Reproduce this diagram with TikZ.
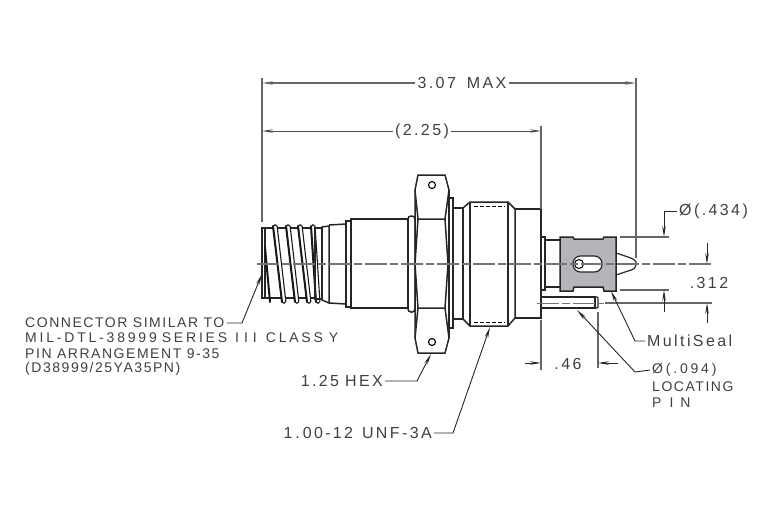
\documentclass[tikz,border=0pt]{standalone}
\usepackage{fontspec}
\setmainfont[LetterSpace=11]{Liberation Sans}
\newfontfamily\midfont[LetterSpace=20]{Liberation Sans}
\newfontfamily\widefont[LetterSpace=15]{Liberation Sans}
\usetikzlibrary{arrows.meta}
\definecolor{sealgray}{HTML}{B4B5B8}
\definecolor{dimgray}{HTML}{666666}
\tikzset{
  body/.style={line width=1.5pt, draw=black!85},
  thread/.style={line width=1.1pt, draw=black!90, fill=white, rounded corners=1.5pt},
  crest/.style={line width=2pt, draw=black!90, line cap=round},
  extline/.style={line width=1.2pt, draw=dimgray},
  dimline/.style={line width=1pt, draw=black!70, -{Stealth[length=11pt,width=3.5pt]}},
  leader/.style={line width=0.9pt, draw=black!85, -{Stealth[length=11pt,width=3.5pt]}},
  center/.style={line width=1.4pt, draw=black!55, dash pattern=on 22pt off 3pt on 8pt off 3pt},
  lab/.style={font=\fontsize{14}{14}\selectfont, text=black!75, inner sep=2pt},
  labmid/.style={lab, font=\fontsize{14}{14}\selectfont\midfont},
  labwide/.style={lab, font=\fontsize{16}{16}\selectfont\widefont},
}
\begin{document}
\begin{tikzpicture}[x=1pt,y=-1pt]
\useasboundingbox (0,0) rectangle (780,520);

% connector end with thread
\draw[body,line width=1.1pt] (265,228) rectangle (262,298);
\draw[body,line width=1.1pt] (265,228) -- (315,228) -- (315,298) -- (265,298);
\foreach \xa/\xb in {273/282,286/295,298/307,311/316} {
  \draw[thread] (\xa,225) -- (\xa+4,225) -- (\xb+4,303) -- (\xb,303) -- cycle;
  \draw[crest] (\xa,226) -- (\xb,302);
}
\draw[crest] (265,247) -- (270,302);
\draw[body,line width=1.1pt] (315,228) rectangle (322,299);
\draw[body] (322,227) -- (329,226) -- (329,303) -- (322,300) -- cycle;
\draw[body] (329,225) -- (346,224) -- (346,304) -- (329,303);
\draw[body,line width=2pt] (346,221) rectangle (351,307);
\draw[body] (351,219) rectangle (408,308);

% flange and hex nut
\draw[body,rounded corners=3pt] (408,216) -- (415,216) -- (415,312) -- (408,312) -- cycle;
\draw[body] (418,175) -- (445,175) -- (449,190) -- (449,338) -- (445,353) -- (418,353) -- (415,338) -- (415,190) -- cycle;
\draw[body] (415,190) -- (418,219) -- (445,219) -- (449,190);
\draw[body] (415,338) -- (418,308) -- (445,308) -- (449,338);
\draw[body] (418,219) -- (415,264) -- (418,308);
\draw[body] (445,219) -- (448,264) -- (445,308);
\draw[line width=1.1pt] (432,185) circle (3.5pt);
\draw[line width=1.1pt] (432,342) circle (3.5pt);
\draw[body] (449,198) rectangle (453,328);
\draw[body] (453,208) rectangle (463,319);

% threaded body
\draw[body] (463,208) -- (470,202) -- (508,202) -- (515,209) -- (515,318) -- (508,326) -- (470,326) -- (463,319);
\draw[body] (470,202) -- (470,326);
\draw[body] (508,202) -- (508,326);
\draw[body] (515,209) -- (541,209) -- (541,318) -- (515,318);
\draw[line width=0.8pt, dash pattern=on 4pt off 2pt] (474,206) -- (505,206);
\draw[line width=0.8pt, dash pattern=on 4pt off 2pt] (474,322) -- (505,322);

% back end
\draw[body] (541,237) rectangle (545,290);
\draw[body] (545,240) -- (560,240);
\draw[body] (545,287) -- (560,287);
\draw[body,fill=sealgray] (560,237) -- (573,237) -- (574,239) -- (603,239) -- (604,237) -- (616,237)
  -- (616,291) -- (604,291) -- (603,287) -- (574,287) -- (573,291) -- (560,291) -- cycle;
\draw[body,line width=1.2pt,fill=white,rounded corners=7.5pt] (573,256) rectangle (602,272);
\draw[line width=1pt,fill=white] (579,264) circle (4.5pt);
\draw[body,line width=1.2pt] (616,253) -- (628,257) .. controls (634,259) and (637,261) .. (636,264)
  .. controls (636,268) and (633,270) .. (628,271) -- (616,275);
\draw[body,line width=1.2pt] (541,297) -- (595,297) -- (595,308) -- (541,308);
\draw[body,line width=1.2pt,rounded corners=1pt] (595,297) -- (598,297) -- (598,308) -- (595,308);

% center lines
\draw[center] (257,264) -- (712,264);
\draw[center,line width=1pt] (537,303) -- (604,303);

% extension lines
\draw[extline] (262,78) -- (262,222);
\draw[extline] (636,78) -- (636,258);
\draw[extline] (541,126) -- (541,209);
\draw[extline] (541,320) -- (541,370);
\draw[extline] (598,312) -- (598,368);
\draw[extline] (620,237) -- (669,237);
\draw[extline] (620,290) -- (669,290);
\draw[extline] (605,303) -- (712,303);

% overall and body length
\node[labwide] (lenmax) at (462,83) {3.07\hspace{11pt}MAX};
\node[labwide] (lenbody) at (422,131) {(2.25)};
\coordinate (maxL) at (262,83);
\coordinate (maxR) at (636,83);
\coordinate (bodyL) at (262,131);
\coordinate (bodyR) at (541,131);
\draw[dimline,line width=1.3pt,draw=dimgray] (lenmax) -- (maxL);
\draw[dimline,line width=1.3pt,draw=dimgray] (lenmax) -- (maxR);
\draw[dimline] (lenbody) -- (bodyL);
\draw[dimline] (lenbody) -- (bodyR);

% right side dimensions
\node[labwide,anchor=west] (diaseal) at (677,211) {Ø(.434)};
\coordinate (diasealT) at (664,237);
\coordinate (diasealB) at (664,290);
\coordinate (diasealS) at (664,312);
\draw[leader] (diaseal.west) -| (diasealT);
\draw[leader] (diasealS) -- (diasealB);
\node[labwide] (pinoff) at (709,283) {.312};
\coordinate (offT) at (707,264);
\coordinate (offB) at (707,303);
\coordinate (offTS) at (707,243);
\coordinate (offBS) at (707,323);
\draw[leader] (offTS) -- (offT);
\draw[leader] (offBS) -- (offB);
\node[labwide] (pinlen) at (568,364) {.46};
\coordinate (pinlenL) at (541,363);
\coordinate (pinlenR) at (598,363);
\coordinate (pinlenLS) at (525,363);
\coordinate (pinlenRS) at (618,363);
\draw[leader] (pinlenLS) -- (pinlenL);
\draw[leader] (pinlenRS) -- (pinlenR);

% leaders
\node[labwide,anchor=west] (seal) at (645,341) {MultiSeal};
\coordinate (sealK) at (635,341);
\coordinate (sealT) at (611,291);
\draw[leader] (seal.west) -- (sealK) -- (sealT);
\node[labmid,anchor=west] (locpin) at (650,370) {Ø(.094)};
\coordinate (locpinK) at (635,372);
\coordinate (locpinT) at (577,310);
\draw[leader] (locpin.west) -- (locpinK) -- (locpinT);
\node[lab,anchor=west] (locpin2) at (650,387) {LOCATING};
\node[labmid,anchor=west] (locpin3) at (650,403) {P\hspace{8pt}I\hspace{7pt}N};
\node[labwide,anchor=east] (hex) at (385,381) {1.25\hspace{6pt}HEX};
\coordinate (hexK) at (417,381);
\coordinate (hexT) at (431,354);
\draw[leader] (hex.east) -- (hexK) -- (hexT);
\node[labwide,anchor=east] (unf) at (434,433) {1\hspace{3pt}.\hspace{3pt}00-\hspace{2pt}12\hspace{9pt}UNF-3A};
\coordinate (unfK) at (453,433);
\coordinate (unfT) at (490,327);
\draw[leader] (unf.east) -- (unfK) -- (unfT);
\node[lab,anchor=west] (conn) at (23,323) {CONNECTOR SIMILAR TO};
\coordinate (connK) at (242,323);
\coordinate (connT) at (262,274);
\draw[leader] (conn.east) -- (connK) -- (connT);
\node[labmid,anchor=west] (conn2) at (23,338) {MIL-DTL-38999\hspace{5pt}SERIES\hspace{8pt}I\hspace{5pt}I\hspace{5pt}I\hspace{9pt}CLASS\hspace{6pt}Y};
\node[lab,anchor=west] (conn3) at (23,354) {PIN ARRANGEMENT 9-35};
\node[lab,anchor=west] (conn4) at (23,369) {(D38999/25YA35PN)};
\end{tikzpicture}
\end{document}
